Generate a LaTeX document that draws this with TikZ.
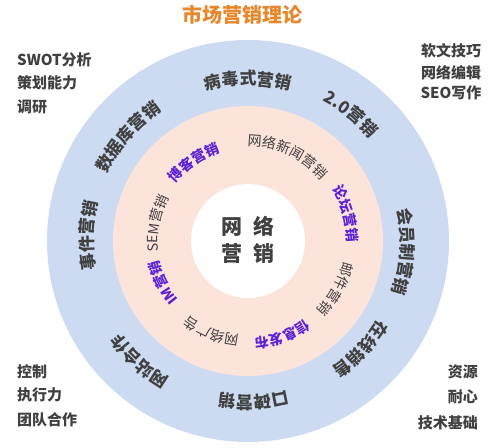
\documentclass[tikz,border=0pt]{standalone}
\usepackage{fontspec}
\newfontfamily\cjk{Noto Sans CJK SC}
\usetikzlibrary{decorations.text}
\definecolor{ttlorange}{HTML}{E8862A}
\definecolor{txtgray}{HTML}{404040}
\definecolor{txtpurple}{HTML}{5B22D6}
\definecolor{ringpink}{HTML}{FCE4DB}
\definecolor{ringblue}{HTML}{CCDBF1}
\definecolor{ringblueb}{HTML}{E4ECF8}
\pgfdeclareradialshading{bluering}{\pgfpointorigin}{color(0bp)=(ringblue); color(34bp)=(ringblue); color(44bp)=(ringblueb); color(50bp)=(white!45!ringblueb)}

\tikzset{side/.style={font=\cjk\bfseries\fontsize{15}{15}\selectfont, text=txtgray, inner sep=0pt},
         ttl/.style={font=\cjk\bfseries\fontsize{20}{20}\selectfont, text=ttlorange, inner sep=0pt},
         core/.style={font=\cjk\bfseries\fontsize{21}{27}\selectfont, text=txtgray, align=center, inner sep=0pt}}
\newcommand{\outf}{\color{txtgray}\cjk\bfseries\fontsize{17}{17}\selectfont}
\newcommand{\ingf}{\color{txtgray}\cjk\fontsize{14}{14}\selectfont}
\newcommand{\inpf}{\color{txtpurple}\cjk\bfseries\fontsize{14}{14}\selectfont}
\newcommand{\ringtext}[4]{\path[decorate, decoration={text along path, text align=center, text={|#3|#4}}]
  (#1+45:#2) arc[start angle=#1+45, end angle=#1-45, radius=#2];}

\begin{document}
\begin{tikzpicture}[x=1pt, y=1pt]
  \useasboundingbox (-248,-206) rectangle (252,241);
  \fill[white] (-248,-206) rectangle (252,241);
  \shade[shading=bluering] (0,0) circle[radius=201pt];
  \fill[ringpink] (0,0) circle[radius=135pt];
  \fill[white] (0,0) circle[radius=57pt];

  \node[ttl] (title) at (-5,226) {市场营销理论};
  \node[core] (net) at (0,1) {网\hspace{12pt}络\\营\hspace{12pt}销};

  \node[side, anchor=west] (swot) at (-231,181) {SWOT分析};
  \node[side, anchor=west] (plan) at (-231,158) {策划能力};
  \node[side, anchor=west] (res)  at (-231,134) {调研};
  \node[side] (soft) at (203,190) {软文技巧};
  \node[side] (edit) at (203,168) {网络编辑};
  \node[side] (seo)  at (203,148) {SEO写作};
  \node[side, anchor=west] (ctrl) at (-231,-131) {控制};
  \node[side, anchor=west] (exec) at (-231,-154) {执行力};
  \node[side, anchor=west] (team) at (-231,-179) {团队合作};
  \node[side, anchor=east] (src)  at (230,-131) {资源};
  \node[side, anchor=east] (pat)  at (230,-156) {耐心};
  \node[side, anchor=east] (tech) at (230,-182) {技术基础};

  \ringtext{90}{156pt}{\outf}{病毒式营销}
  \ringtext{51}{159pt}{\outf}{2.0营销}
  \ringtext{-4}{153pt}{\outf}{会员制营销}
  \ringtext{-44}{152pt}{\outf}{在线销售}
  \ringtext{-88}{155pt}{\outf}{口碑营销}
  \ringtext{-132}{158pt}{\outf}{网站合作}
  \ringtext{178}{155pt}{\outf}{事件营销}
  \ringtext{139}{156pt}{\outf}{数据库营销}

  \ringtext{65}{95pt}{\ingf}{网络新闻营销}
  \ringtext{15.6}{99pt}{\inpf}{论坛营销}
  \ringtext{-28.6}{97pt}{\ingf}{邮件营销}
  \ringtext{-70}{97pt}{\inpf}{信息发布}
  \ringtext{-112}{95pt}{\ingf}{网络广告}
  \ringtext{-154}{91pt}{\inpf}{IM营销}
  \ringtext{169}{90pt}{\ingf}{SEM营销}
  \ringtext{124.6}{93pt}{\inpf}{博客营销}
\end{tikzpicture}
\end{document}
